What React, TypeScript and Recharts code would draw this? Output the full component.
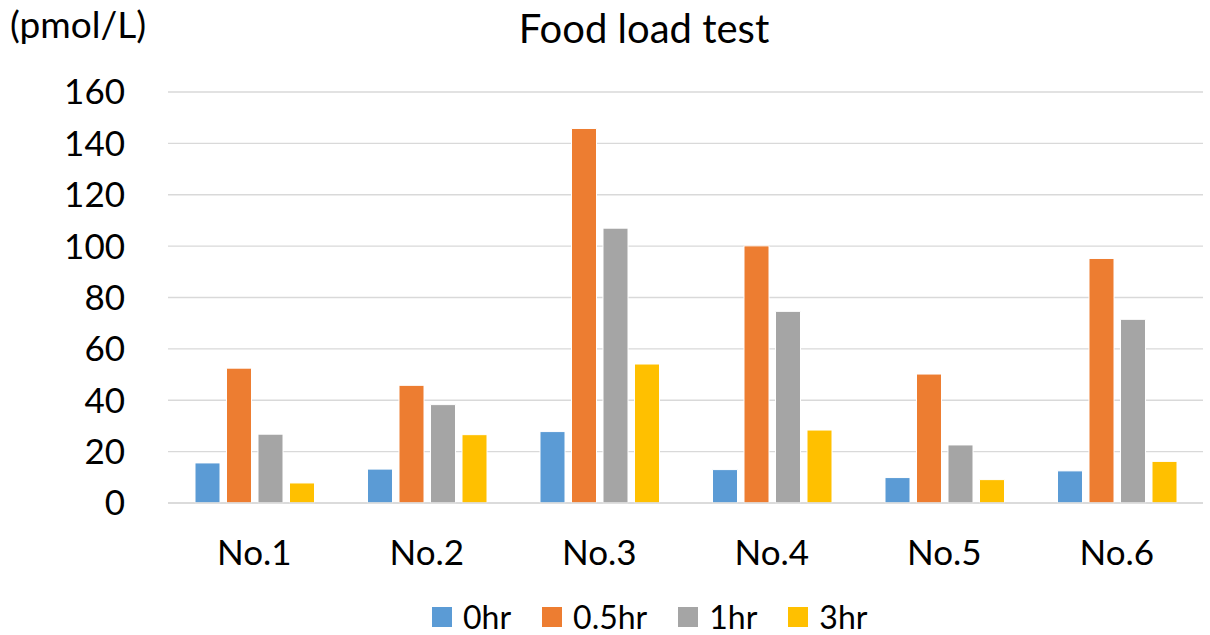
import {
  Bar,
  BarChart,
  CartesianGrid,
  Legend,
  XAxis,
  YAxis,
} from "recharts";

const CATEGORIES = ["No.1", "No.2", "No.3", "No.4", "No.5", "No.6"];
const HR0 = [15.6, 13.2, 27.8, 13.0, 9.9, 12.5];
const HR05 = [52.5, 45.8, 145.8, 100.1, 50.2, 95.2];
const HR1 = [26.8, 38.3, 107.0, 74.6, 22.6, 71.5];
const HR3 = [7.8, 26.6, 54.1, 28.4, 9.1, 16.2];
const Y_TICKS = [0, 20, 40, 60, 80, 100, 120, 140, 160];

const SERIES = [
  { key: "h0", name: "0hr", color: "#5B9BD5" },
  { key: "h05", name: "0.5hr", color: "#ED7D31" },
  { key: "h1", name: "1hr", color: "#A5A5A5" },
  { key: "h3", name: "3hr", color: "#FFC000" },
];

const data = CATEGORIES.map((name, i) => ({
  name,
  h0: HR0[i],
  h05: HR05[i],
  h1: HR1[i],
  h3: HR3[i],
}));

const FONT = "Lato, 'Open Sans', sans-serif";

function renderLegend() {
  return (
    <div
      style={{
        height: 40,
        display: "flex",
        alignItems: "center",
        paddingLeft: 432,
        paddingTop: 4,
        boxSizing: "border-box",
        fontFamily: FONT,
        fontSize: 32,
        lineHeight: "36px",
        color: "#000",
      }}
    >
      {SERIES.map((s) => (
        <div
          key={s.key}
          style={{ display: "flex", alignItems: "center", marginRight: 31 }}
        >
          <span
            style={{
              width: 20,
              height: 20,
              background: s.color,
              display: "inline-block",
              marginRight: 11,
            }}
          />
          <span>{s.name}</span>
        </div>
      ))}
    </div>
  );
}

export default function App() {
  return (
    <div
      style={{
        position: "absolute",
        left: 0,
        top: 0,
        width: 1210,
        height: 635,
        background: "#fff",
        fontFamily: FONT,
      }}
    >
      <div
        style={{
          position: "absolute",
          left: 10,
          top: 3,
          fontSize: 37,
          lineHeight: "42px",
          color: "#000",
        }}
      >
        (pmol/L)
      </div>
      <div
        style={{
          position: "absolute",
          left: 0,
          width: 1288,
          top: 5,
          textAlign: "center",
          fontSize: 40,
          lineHeight: "46px",
          color: "#000",
        }}
      >
        Food load test
      </div>
      <BarChart
        width={1210}
        height={635}
        data={data}
        margin={{ top: 92, right: 7, left: 0, bottom: 0 }}
        barSize={25}
        barGap={6.5}
      >
        <CartesianGrid stroke="#d9d9d9" strokeWidth={1.3} vertical={false} />
        <XAxis
          dataKey="name"
          height={92}
          tickLine={false}
          tickSize={0}
          tickMargin={37}
          axisLine={{ stroke: "#d9d9d9", strokeWidth: 1.5 }}
          tick={{ fill: "#000", fontSize: 35, fontFamily: FONT }}
        />
        <YAxis
          width={168}
          domain={[0, 160]}
          ticks={Y_TICKS}
          interval={0}
          tickLine={false}
          axisLine={false}
          tickSize={0}
          tickMargin={43}
          tick={{ fill: "#000", fontSize: 35, fontFamily: FONT }}
        />
        <Legend verticalAlign="bottom" height={40} content={renderLegend} />
        {SERIES.map((s) => (
          <Bar
            key={s.key}
            dataKey={s.key}
            name={s.name}
            fill={s.color}
            stroke="#fff"
            strokeWidth={1}
            isAnimationActive={false}
          />
        ))}
      </BarChart>
    </div>
  );
}
